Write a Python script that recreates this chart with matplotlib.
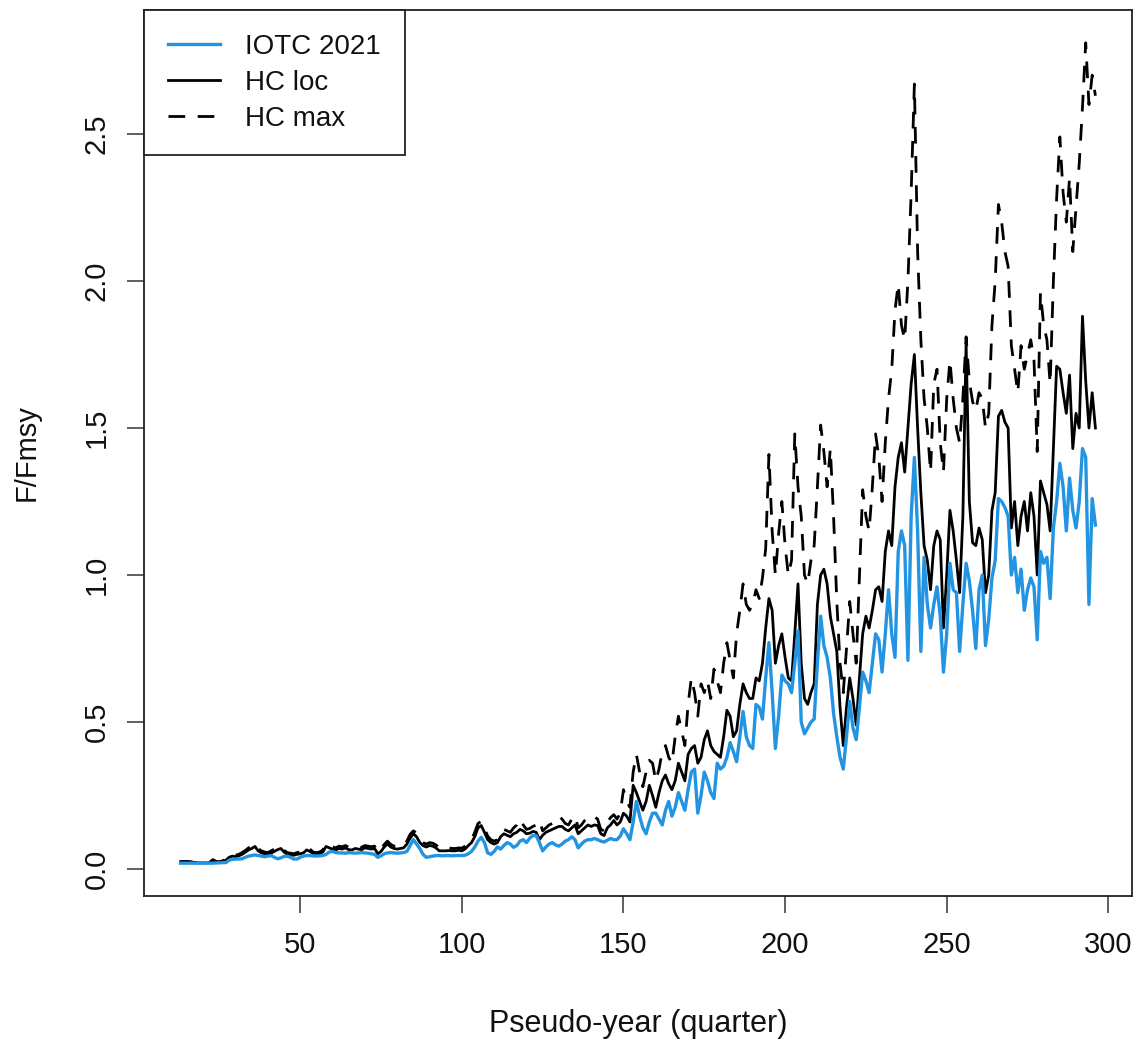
import matplotlib
matplotlib.use("Agg")
import matplotlib.pyplot as plt
from matplotlib.lines import Line2D
import numpy as np

plt.rcParams['font.family'] = ['Liberation Sans', 'DejaVu Sans']

# Pseudo-year (quarter) index
years = list(range(13, 297))

iotc_2021 = [
    # 13-22
    .020, .020, .020, .020, .020, .020, .020, .020, .020, .020,
    # 23-32
    .020, .021, .021, .022, .022, .030, .033, .034, .034, .035,
    # 33-42
    .040, .044, .046, .048, .046, .044, .042, .044, .046, .040,
    # 43-52
    .035, .038, .043, .044, .040, .034, .034, .040, .044, .046,
    # 53-62
    .046, .045, .044, .045, .046, .050, .058, .060, .056, .055,
    # 63-72
    .055, .054, .056, .055, .054, .055, .056, .055, .054, .052,
    # 73-82
    .050, .040, .045, .052, .055, .056, .055, .054, .055, .056,
    # 83-92
    .060, .080, .100, .085, .070, .050, .040, .042, .044, .046,
    # 93-102
    .046, .045, .046, .046, .045, .046, .046, .046, .047, .052,
    # 103-112
    .060, .075, .095, .108, .090, .055, .050, .060, .075, .068,
    # 113-122
    .080, .090, .085, .074, .080, .095, .100, .090, .105, .114,
    # 123-132
    .114, .090, .062, .075, .085, .090, .082, .078, .085, .095,
    # 133-142
    .100, .110, .100, .072, .085, .095, .100, .100, .104, .100,
    # 143-152
    .095, .092, .098, .104, .100, .100, .112, .137, .120, .100,
    # 153-162
    .160, .230, .180, .140, .120, .160, .190, .190, .170, .150,
    # 163-172
    .200, .230, .180, .210, .260, .230, .200, .270, .330, .340,
    # 173-182
    .190, .250, .330, .300, .260, .240, .360, .340, .350, .380,
    # 183-192
    .430, .400, .365, .450, .536, .450, .420, .410, .560, .550,
    # 193-202
    .510, .650, .770, .600, .410, .520, .660, .640, .630, .600,
    # 203-212
    .700, .810, .500, .460, .480, .500, .510, .700, .860, .760,
    # 213-222
    .720, .650, .530, .450, .380, .340, .450, .570, .480, .440,
    # 223-232
    .550, .670, .640, .600, .700, .800, .780, .670, .800, .950,
    # 233-242
    .800, .720, 1.080, 1.150, 1.100, .710, 1.200, 1.400, 1.150, .740,
    # 243-252
    1.060, .900, .820, .900, .960, .860, .670, .800, 1.040, .950,
    # 253-262
    .940, .740, .900, 1.040, .980, .880, .750, .950, 1.000, .760,
    # 263-272
    .850, .990, 1.050, 1.260, 1.250, 1.230, 1.200, 1.000, 1.060, .940,
    # 273-282
    1.020, .880, .950, .990, .960, .780, 1.080, 1.040, 1.060, .920,
    # 283-292
    1.160, 1.250, 1.380, 1.300, 1.150, 1.330, 1.220, 1.160, 1.250, 1.430,
    # 293-296
    1.400, .900, 1.260, 1.170,
]

hc_loc = [
    # 13-22
    .025, .025, .025, .024, .022, .021, .021, .021, .021, .022,
    # 23-32
    .030, .024, .023, .025, .030, .040, .044, .042, .045, .050,
    # 33-42
    .057, .065, .070, .077, .062, .055, .052, .050, .054, .060,
    # 43-52
    .066, .070, .058, .050, .048, .047, .050, .052, .055, .065,
    # 53-62
    .060, .052, .050, .052, .058, .077, .072, .068, .065, .070,
    # 63-72
    .068, .072, .066, .065, .070, .068, .066, .072, .070, .068,
    # 73-82
    .070, .052, .060, .075, .085, .075, .070, .068, .070, .072,
    # 83-92
    .085, .105, .120, .110, .090, .080, .075, .080, .078, .072,
    # 93-102
    .062, .062, .062, .063, .062, .062, .064, .062, .068, .080,
    # 103-112
    .090, .110, .140, .148, .125, .100, .090, .085, .090, .110,
    # 113-122
    .120, .115, .110, .120, .125, .135, .130, .120, .122, .128,
    # 123-132
    .125, .100, .115, .125, .130, .135, .140, .145, .145, .135,
    # 133-142
    .130, .140, .150, .120, .130, .140, .150, .145, .150, .148,
    # 143-152
    .120, .114, .140, .150, .165, .150, .160, .190, .180, .160,
    # 153-162
    .285, .260, .230, .200, .230, .285, .250, .210, .260, .300,
    # 163-172
    .320, .290, .270, .300, .360, .330, .300, .390, .410, .420,
    # 173-182
    .360, .380, .440, .470, .420, .400, .390, .380, .450, .540,
    # 183-192
    .520, .450, .470, .560, .630, .600, .580, .580, .650, .640,
    # 193-202
    .700, .820, .920, .880, .700, .760, .800, .720, .650, .640,
    # 203-212
    .800, .970, .700, .580, .560, .600, .630, .900, 1.000, 1.020,
    # 213-222
    .970, .860, .800, .740, .550, .420, .550, .650, .580, .490,
    # 223-232
    .650, .800, .860, .820, .880, .950, .960, .910, 1.080, 1.150,
    # 233-242
    1.100, 1.300, 1.400, 1.450, 1.350, 1.500, 1.650, 1.750, 1.500, 1.280,
    # 243-252
    1.100, 1.050, .950, 1.100, 1.150, 1.120, .820, 1.000, 1.220, 1.150,
    # 253-262
    1.050, .940, 1.200, 1.790, 1.250, 1.110, 1.100, 1.160, 1.120, .940,
    # 263-272
    1.000, 1.220, 1.280, 1.540, 1.560, 1.520, 1.500, 1.160, 1.250, 1.100,
    # 273-282
    1.200, 1.250, 1.150, 1.280, 1.200, 1.000, 1.320, 1.280, 1.240, 1.150,
    # 283-292
    1.430, 1.710, 1.700, 1.620, 1.550, 1.680, 1.430, 1.550, 1.500, 1.880,
    # 293-296
    1.660, 1.500, 1.620, 1.500,
]

hc_max = [
    # 13-22
    .026, .026, .026, .025, .023, .022, .022, .022, .022, .023,
    # 23-32
    .032, .026, .025, .028, .033, .044, .048, .047, .050, .056,
    # 33-42
    .063, .072, .078, .085, .070, .062, .058, .056, .062, .068,
    # 43-52
    .074, .078, .064, .056, .054, .052, .056, .058, .062, .073,
    # 53-62
    .068, .058, .056, .058, .065, .086, .080, .076, .072, .078,
    # 63-72
    .076, .080, .074, .073, .078, .076, .074, .080, .078, .076,
    # 73-82
    .078, .058, .068, .084, .095, .084, .078, .076, .078, .080,
    # 83-92
    .095, .118, .130, .122, .100, .090, .085, .090, .088, .082,
    # 93-102
    .072, .072, .070, .072, .070, .070, .072, .071, .078, .092,
    # 103-112
    .100, .125, .155, .162, .140, .112, .100, .095, .100, .125,
    # 113-122
    .135, .130, .125, .140, .150, .171, .150, .135, .138, .145,
    # 123-132
    .150, .165, .130, .140, .150, .155, .165, .180, .170, .155,
    # 133-142
    .150, .170, .182, .140, .150, .165, .175, .170, .178, .170,
    # 143-152
    .135, .130, .160, .175, .185, .170, .190, .270, .230, .210,
    # 153-162
    .330, .390, .330, .280, .330, .370, .360, .300, .340, .400,
    # 163-172
    .420, .380, .360, .450, .520, .470, .420, .560, .650, .600,
    # 173-182
    .520, .630, .600, .640, .580, .680, .640, .600, .700, .770,
    # 183-192
    .710, .650, .800, .880, .970, .900, .880, .900, .950, .920,
    # 193-202
    .990, 1.090, 1.410, 1.150, 1.000, 1.140, 1.250, 1.100, 1.000, 1.050,
    # 203-212
    1.480, 1.300, 1.200, 1.000, .970, 1.050, 1.100, 1.300, 1.510, 1.420,
    # 213-222
    1.300, 1.430, 1.200, .910, .700, .600, .750, .910, .800, .700,
    # 223-232
    1.000, 1.290, 1.200, 1.150, 1.300, 1.480, 1.400, 1.250, 1.450, 1.600,
    # 233-242
    1.700, 1.900, 1.990, 1.850, 1.800, 2.000, 2.300, 2.670, 2.100, 1.800,
    # 243-252
    1.600, 1.500, 1.350, 1.650, 1.700, 1.450, 1.350, 1.600, 1.730, 1.600,
    # 253-262
    1.500, 1.450, 1.600, 1.810, 1.660, 1.590, 1.560, 1.620, 1.600, 1.500,
    # 263-272
    1.550, 1.850, 2.000, 2.260, 2.200, 2.100, 2.050, 1.780, 1.700, 1.620,
    # 273-282
    1.780, 1.700, 1.750, 1.800, 1.730, 1.420, 1.960, 1.850, 1.800, 1.650,
    # 283-292
    2.000, 2.280, 2.490, 2.300, 2.200, 2.350, 2.100, 2.250, 2.400, 2.590,
    # 293-296
    2.810, 2.600, 2.700, 2.630,
]

series_labels = ["IOTC 2021", "HC loc", "HC max"]
x_ticks = [50, 100, 150, 200, 250, 300]
y_ticks = [0.0, 0.5, 1.0, 1.5, 2.0, 2.5]
y_tick_labels = ["0.0", "0.5", "1.0", "1.5", "2.0", "2.5"]

blue = "#2394E2"
dash = (0, (6, 4.5))
W, H = 1139, 1041
fig = plt.figure(figsize=(W / 100, H / 100), dpi=100)
ax = fig.add_axes([144 / W, 1 - 896 / H, (1132 - 144) / W, (896 - 10) / H])

ax.plot(years, hc_max, color="black", lw=2.0, linestyle=dash)
ax.plot(years, hc_loc, color="black", lw=2.0)
ax.plot(years, iotc_2021, color=blue, lw=2.4)

xmin, xmax = min(years), max(years)
xr = xmax - xmin
ax.set_xlim(xmin - 0.04 * xr, xmax + 0.04 * xr)
allv = iotc_2021 + hc_loc + hc_max
ymin, ymax = min(allv), max(allv)
yr = ymax - ymin
ax.set_ylim(ymin - 0.04 * yr, ymax + 0.04 * yr)

ax.set_xticks(x_ticks)
ax.set_xticklabels([str(v) for v in x_ticks])
ax.set_yticks(y_ticks)
ax.set_yticklabels(y_tick_labels, rotation=90, va="center")
ax.tick_params(axis="both", length=12, width=1.1, labelsize=21, color="#333333",
               labelcolor="#111111")
ax.tick_params(axis="x", pad=13)
ax.tick_params(axis="y", pad=12)
for s in ax.spines.values():
    s.set_linewidth(1.3)
    s.set_color("#222222")

ax.set_xlabel("Pseudo-year (quarter)", fontsize=22, labelpad=36, color="#111111")
ax.set_ylabel("F/Fmsy", fontsize=21, labelpad=30, color="#111111")

handles = [
    Line2D([], [], color=blue, lw=2.4),
    Line2D([], [], color="black", lw=2.0),
    Line2D([], [], color="black", lw=2.0, linestyle=dash),
]
leg = ax.legend(handles, series_labels, loc="upper left", bbox_to_anchor=(0, 1),
                borderaxespad=0, fancybox=False, framealpha=1, edgecolor="#222222",
                fontsize=20, handlelength=1.9, handletextpad=0.9,
                borderpad=0.85, labelspacing=0.36)
leg.get_frame().set_linewidth(1.3)
for t in leg.get_texts():
    t.set_color("#111111")

fig.savefig("out.png", dpi=100)
